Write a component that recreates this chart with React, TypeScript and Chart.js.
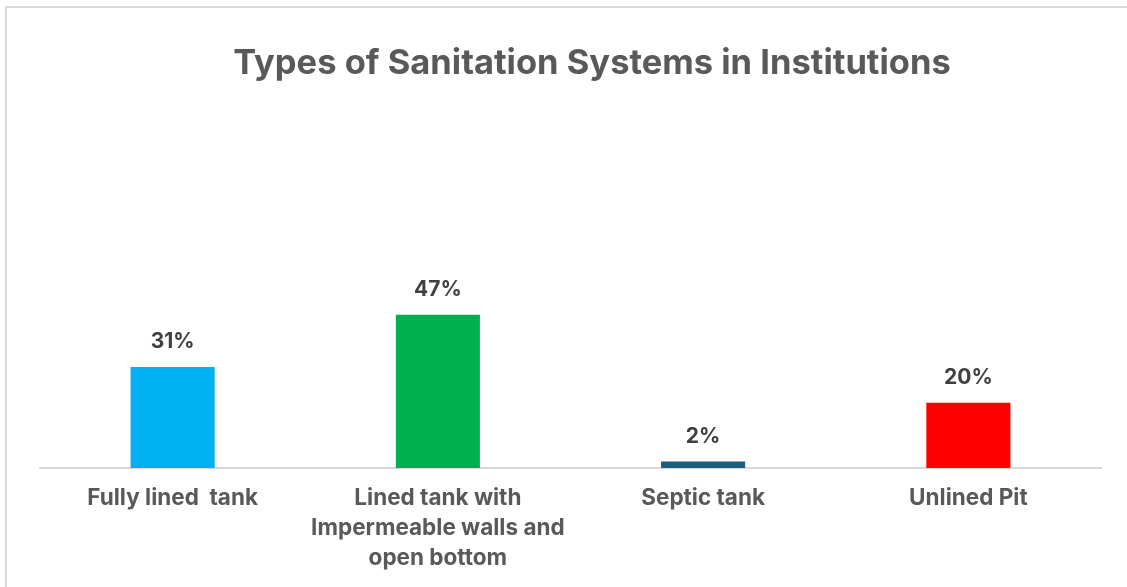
import React, { useEffect, useRef } from "react";
import { Chart, registerables } from "chart.js";

Chart.register(...registerables);

const categories: (string | string[])[] = [
  "Fully lined  tank",
  ["Lined tank with", "Impermeable walls and", "open bottom"],
  "Septic tank",
  "Unlined Pit",
];
const values = [31, 47, 2, 20];
const barColors = ["#00B0F0", "#00B050", "#1B5E80", "#FF0000"];
const titleText = "Types of Sanitation Systems in Institutions";

const FONT = "Inter, 'Open Sans', sans-serif";

const frame = {
  id: "frame",
  beforeDraw(chart: any) {
    const ctx = chart.ctx;
    ctx.save();
    ctx.fillStyle = "#ffffff";
    ctx.fillRect(0, 0, chart.width, chart.height);
    ctx.strokeStyle = "#D9D9D9";
    ctx.lineWidth = 2;
    ctx.beginPath();
    ctx.moveTo(6, chart.height);
    ctx.lineTo(6, 7);
    ctx.lineTo(chart.width, 7);
    ctx.stroke();
    ctx.font = `bold 34.5px ${FONT}`;
    ctx.fillStyle = "#595959";
    ctx.textAlign = "center";
    ctx.textBaseline = "middle";
    ctx.fillText(titleText, 592, 64);
    ctx.restore();
  },
};

const valueLabels = {
  id: "valueLabels",
  afterDatasetsDraw(chart: any) {
    const ctx = chart.ctx;
    const meta = chart.getDatasetMeta(0);
    ctx.save();
    ctx.font = `bold 21px ${FONT}`;
    ctx.fillStyle = "#404040";
    ctx.textAlign = "center";
    ctx.textBaseline = "middle";
    meta.data.forEach((bar: any, i: number) => {
      ctx.fillText(`${values[i]}%`, bar.x, bar.y - 25);
    });
    ctx.restore();
  },
};

export default function App() {
  const ref = useRef<HTMLCanvasElement>(null);
  useEffect(() => {
    document.body.style.margin = "0";
    const chart = new Chart(ref.current!, {
      type: "bar",
      data: {
        labels: categories,
        datasets: [
          {
            data: values,
            backgroundColor: barColors,
            borderWidth: 0,
            categoryPercentage: 1,
            barPercentage: 0.317,
          },
        ],
      },
      options: {
        responsive: false,
        animation: false,
        layout: { padding: { left: 40, right: 26, top: 142, bottom: -1 } },
        plugins: {
          legend: { display: false },
          tooltip: { enabled: false },
          title: { display: false },
        },
        scales: {
          x: {
            grid: { display: false, drawTicks: false },
            border: { display: true, color: "#D9D9D9", width: 2 },
            ticks: {
              color: "#595959",
              autoSkip: false,
              maxRotation: 0,
              padding: 15,
              font: { family: FONT, size: 22.5, weight: "bold", lineHeight: "30px" },
            },
          },
          y: {
            display: false,
            min: 0,
            max: 100,
          },
        },
      },
      plugins: [frame, valueLabels],
    });
    return () => chart.destroy();
  }, []);
  return (
    <div style={{ width: 1127, height: 587 }}>
      <canvas ref={ref} width={1127} height={587} />
    </div>
  );
}
